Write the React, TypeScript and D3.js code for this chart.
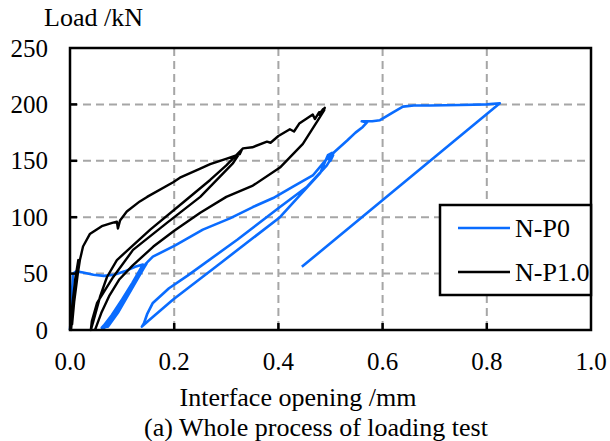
import React from 'react';
import { scaleLinear, line as d3line } from 'd3';

// [opening mm, load kN]
const np0Curve: [number, number][] = [
  [0, 0], [0.002, 15], [0.004, 35], [0.006, 50], [0.012, 52], [0.025, 51], [0.045, 49],
  [0.065, 48], [0.085, 49], [0.105, 52], [0.125, 56], [0.14, 58],
  // repeated small cycles (thick band)
  [0.12, 42], [0.1, 27], [0.08, 13], [0.065, 4], [0.061, 2],
  [0.066, 2], [0.086, 14], [0.106, 29], [0.126, 45], [0.144, 58],
  [0.124, 43], [0.104, 28], [0.084, 14], [0.068, 4], [0.063, 2],
  [0.069, 3], [0.089, 15], [0.109, 30], [0.129, 46], [0.146, 59],
  [0.126, 43], [0.106, 28], [0.086, 14], [0.07, 5], [0.065, 2],
  [0.071, 3], [0.091, 16], [0.111, 31], [0.131, 47], [0.147, 59],
  [0.128, 44], [0.108, 29], [0.088, 15], [0.072, 5], [0.067, 3],
  [0.073, 3], [0.093, 16], [0.113, 32], [0.133, 48], [0.148, 60],
  [0.159, 65], [0.202, 75], [0.255, 89], [0.307, 99], [0.351, 109], [0.39, 117],
  [0.428, 127], [0.466, 137], [0.486, 148], [0.503, 157],
  [0.495, 155], [0.48, 139], [0.403, 100], [0.288, 59], [0.198, 27], [0.15, 8], [0.138, 3],
  [0.142, 6], [0.148, 14], [0.159, 24], [0.19, 37], [0.225, 48], [0.321, 80], [0.403, 109],
  [0.455, 127], [0.493, 146], [0.505, 155], [0.5, 150], [0.495, 152], [0.508, 158],
  [0.532, 168], [0.548, 175], [0.562, 180], [0.57, 184], [0.56, 185], [0.58, 185],
  [0.595, 186], [0.62, 193], [0.639, 198], [0.66, 199], [0.691, 199], [0.749, 199.5],
  [0.8, 200], [0.825, 201],
  [0.445, 56],
];

const np10Curve: [number, number][] = [
  [0, 0], [0.004, 20], [0.01, 45], [0.016, 62], [0.01, 40], [0.004, 10], [0.002, 0],
  [0.006, 20], [0.012, 45], [0.018, 60], [0.008, 30], [0.004, 5], [0.008, 25], [0.015, 50],
  [0.019, 62], [0.025, 74], [0.038, 85], [0.061, 92], [0.081, 95], [0.09, 96], [0.092, 90],
  [0.096, 97], [0.109, 105], [0.134, 114], [0.148, 118], [0.198, 131], [0.211, 135],
  [0.25, 143], [0.269, 147], [0.301, 152], [0.326, 156], [0.33, 160],
  [0.313, 148], [0.25, 118], [0.186, 95], [0.121, 71], [0.083, 47], [0.052, 24], [0.042, 8], [0.04, 0],
  [0.045, 8], [0.058, 30], [0.071, 47], [0.09, 62], [0.154, 89], [0.217, 113], [0.269, 133],
  [0.3, 146], [0.332, 161],
  [0.35, 162], [0.378, 167], [0.385, 166], [0.4, 172], [0.422, 178], [0.43, 176], [0.44, 183],
  [0.466, 191], [0.47, 187], [0.478, 193], [0.484, 193], [0.489, 197], [0.48, 190], [0.486, 196],
  [0.478, 191], [0.488, 195],
  [0.476, 186], [0.447, 165], [0.403, 144], [0.351, 128], [0.3, 118], [0.25, 104], [0.2, 88],
  [0.16, 74], [0.12, 57], [0.095, 45], [0.075, 30], [0.06, 15], [0.052, 5], [0.048, 0],
];

const xTicks = [0, 0.2, 0.4, 0.6, 0.8, 1.0];
const yTicks = [0, 50, 100, 150, 200, 250];
const seriesNames = ['N-P0', 'N-P1.0'];
const seriesColors = ['#0a6cff', '#000000'];

const W = 610, H = 441;
const left = 70, right = 591, top = 48, bottom = 330;
const font = '"Liberation Serif", "Times New Roman", serif';

export default function App() {
  const x = scaleLinear().domain([0, 1]).range([left, right]);
  const y = scaleLinear().domain([0, 250]).range([bottom, top]);
  const path = d3line<[number, number]>().x(d => x(d[0])).y(d => y(d[1]));

  return (
    <div style={{ position: 'absolute', left: 0, top: 0 }}>
      <svg width={W} height={H} style={{ display: 'block', background: '#fff' }}>
        {/* grid */}
        {xTicks.slice(1, -1).map(t => (
          <line key={'gx' + t} x1={x(t)} x2={x(t)} y1={top} y2={bottom}
            stroke="#a6a6a6" strokeWidth={2} strokeDasharray="8,5" />
        ))}
        {yTicks.slice(1, -1).map(t => (
          <line key={'gy' + t} x1={left} x2={right} y1={y(t)} y2={y(t)}
            stroke="#a6a6a6" strokeWidth={2} strokeDasharray="8,5" />
        ))}

        <path d={path(np0Curve) || ''} fill="none" stroke={seriesColors[0]} strokeWidth={2.6} strokeLinejoin="round" />
        <path d={path(np10Curve) || ''} fill="none" stroke={seriesColors[1]} strokeWidth={2.4} strokeLinejoin="round" />

        {/* frame and inward ticks */}
        <rect x={left} y={top} width={right - left} height={bottom - top} fill="none" stroke="#000" strokeWidth={2.5} />
        {xTicks.slice(1, -1).map(t => (
          <line key={'tx' + t} x1={x(t)} x2={x(t)} y1={bottom} y2={bottom - 7} stroke="#000" strokeWidth={2.5} />
        ))}
        {yTicks.slice(1, -1).map(t => (
          <line key={'ty' + t} x1={left} x2={left + 7} y1={y(t)} y2={y(t)} stroke="#000" strokeWidth={2.5} />
        ))}

        {/* tick labels */}
        <g fontFamily={font} fontSize={25} fill="#000">
          {xTicks.map(t => (
            <text key={'lx' + t} x={x(t)} y={370} textAnchor="middle">{t.toFixed(1)}</text>
          ))}
          {yTicks.map(t => (
            <text key={'ly' + t} x={48} y={y(t) + 8.5} textAnchor="end">{t}</text>
          ))}
        </g>

        <g fontFamily={font} fontSize={26} fill="#000">
          <text x={44} y={26}>Load /kN</text>
          <text x={298} y={406} textAnchor="middle">Interface opening /mm</text>
          <text x={316} y={436} textAnchor="middle">(a) Whole process of loading test</text>
        </g>

        {/* legend */}
        <rect x={440} y={205} width={151} height={90} fill="#fff" stroke="#000" strokeWidth={2.5} />
        {seriesNames.map((name, i) => (
          <g key={name}>
            <line x1={458} x2={510} y1={228 + i * 44} y2={228 + i * 44} stroke={seriesColors[i]} strokeWidth={2.6} />
            <text x={515} y={237 + i * 44} fontFamily={font} fontSize={26} fill="#000">{name}</text>
          </g>
        ))}
      </svg>
    </div>
  );
}
